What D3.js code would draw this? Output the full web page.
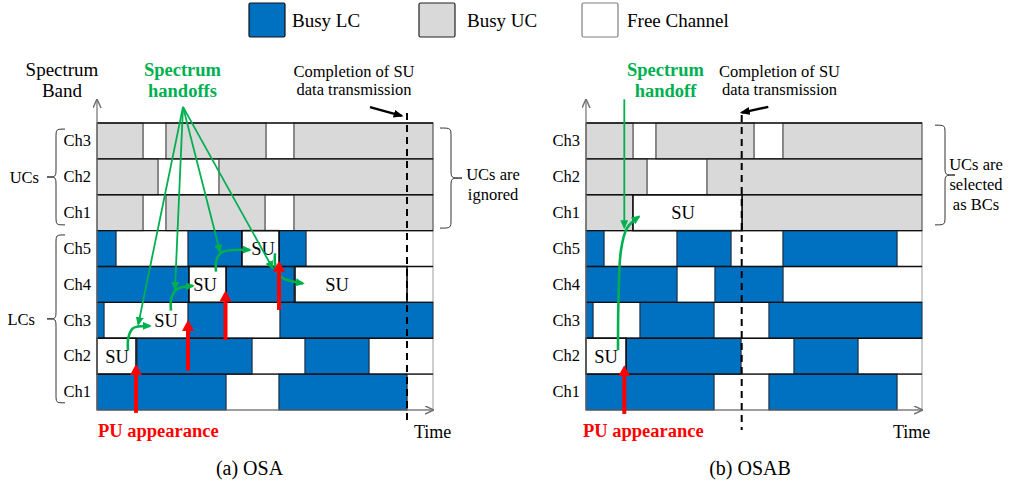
<!DOCTYPE html>
<html>
<head>
<meta charset="utf-8">
<script src="https://cdn.jsdelivr.net/npm/d3@7"></script>
<style>
  body { margin: 0; background: #fff; }
  svg text { font-family: "Liberation Serif", "Times New Roman", serif; }
</style>
</head>
<body>
<div class="chart"></div>
<script>
// rows from top to bottom
var channels = ["UC3", "UC2", "UC1", "LC5", "LC4", "LC3", "LC2", "LC1"];
var channelLabels = ["Ch3", "Ch2", "Ch1", "Ch5", "Ch4", "Ch3", "Ch2", "Ch1"];
var timeSpan = [0, 336];

// channel occupancy: [start, end, state]  L = busy LC, U = busy UC, F = free, S = used by SU
var osaSegments = {
    UC3: [[0, 46, "U"], [46, 69, "F"], [69, 169, "U"], [169, 197, "F"], [197, 336, "U"]],
    UC2: [[0, 61, "U"], [61, 122, "F"], [122, 336, "U"]],
    UC1: [[0, 46, "U"], [46, 69, "F"], [69, 168, "U"], [168, 197, "F"], [197, 336, "U"]],
    LC5: [[0, 19, "L"], [19, 91, "F"], [91, 145, "L"], [145, 182, "S"], [182, 209, "L"], [209, 336, "F"]],
    LC4: [[0, 92, "L"], [92, 129, "S"], [129, 197, "L"], [198, 310, "S"], [310, 336, "F"]],
    LC3: [[0, 7, "L"], [7, 91, "F"], [91, 129, "L"], [129, 183, "F"], [183, 336, "L"]],
    LC2: [[0, 39, "S"], [40, 155, "L"], [155, 208, "F"], [208, 272, "L"], [272, 336, "F"]],
    LC1: [[0, 129, "L"], [129, 182, "F"], [182, 310, "L"], [310, 336, "F"]]
};
var osabSegments = {
    UC3: [[0, 47, "U"], [47, 70, "F"], [70, 168, "U"], [168, 197, "F"], [197, 336, "U"]],
    UC2: [[0, 61, "U"], [61, 121, "F"], [121, 336, "U"]],
    UC1: [[0, 47, "U"], [47, 156, "S"], [156, 336, "U"]],
    LC5: [[0, 18, "L"], [18, 91, "F"], [91, 145, "L"], [145, 197, "F"], [197, 311, "L"], [311, 336, "F"]],
    LC4: [[0, 91, "L"], [91, 129, "F"], [129, 197, "L"], [197, 336, "F"]],
    LC3: [[0, 7, "L"], [7, 54, "F"], [54, 128, "L"], [128, 183, "F"], [183, 336, "L"]],
    LC2: [[0, 40, "S"], [40, 155, "L"], [155, 208, "F"], [208, 272, "L"], [272, 336, "F"]],
    LC1: [[0, 128, "L"], [128, 183, "F"], [183, 311, "L"], [311, 336, "F"]]
};

// SU labels: [channel, time]
var osaSU = [["LC2", 20], ["LC3", 69], ["LC4", 108], ["LC5", 166], ["LC4", 240]];
var osabSU = [["UC1", 97], ["LC2", 20]];

// PU appearance arrows: [time, tail level, tip level]  (level 0 = bottom of LC Ch1, 1 row = 1)
var osaPU = [[39, -0.08, 1.28], [91, 1.10, 2.51], [128.5, 1.95, 3.33], [182, 2.79, 4.16]];
var osabPU = [[38.3, -0.11, 1.25]];

// spectrum handoff hooks: lists of [time, level]
var osaHandoffs = [
    [[31, 1.67], [31.4, 2.02], [36, 2.28], [53, 2.34]],
    [[74, 2.77], [74.4, 3.12], [80, 3.37], [96, 3.46]],
    [[119, 3.86], [119.4, 4.18], [125, 4.40], [153, 4.46]],
    [[178, 4.37], [178.4, 4.01], [184, 3.71], [206, 3.53]]
];
var osabHandoffs = [
    [[32, 1.67], [32.5, 3.07], [35, 4.46], [41, 5.07], [53, 5.39]]
];

// pointers from the "Spectrum handoffs" label: [from time, from level, to time, to level]
var osaPointers = [[86, 8.45, 41.3, 2.39], [86, 8.45, 78, 3.37], [86, 8.45, 123, 4.41], [86, 8.45, 175.7, 3.95]];
var osabPointers = [[38.3, 8.66, 38.3, 5.09]];

// completion of SU transmission: time, dashed line levels, arrow [t0, l0, t1, l1]
var osaDone = {t: 310, top: 8.28, bottom: -0.42, arrow: [273, 8.44, 304.7, 8.20]};
var osabDone = {t: 155.7, top: 8.22, bottom: -0.56, arrow: [182.3, 8.45, 155.7, 8.29]};

var legendItems = ["Busy LC", "Busy UC", "Free Channel"];

var fillOf = {L: "#0070c0", U: "#d9d9d9", F: "#ffffff", S: "#ffffff"};
var strokeOf = {L: "#1d2f45", U: "#4a4a4a", F: "#a6a6a6", S: "#000000"};
var orderOf = {F: 0, U: 1, L: 1, S: 2};
var green = "#00b050";
var red = "#ff0000";

var svg = d3.select(".chart").append("svg")
    .attr("width", 1018)
    .attr("height", 484);

var defs = svg.append("defs");

function marker(id, color, w, h, ref, open) {
    var m = defs.append("marker")
        .attr("id", id)
        .attr("viewBox", "0 0 10 10")
        .attr("preserveAspectRatio", "none")
        .attr("refX", ref)
        .attr("refY", 5)
        .attr("markerUnits", "userSpaceOnUse")
        .attr("markerWidth", w)
        .attr("markerHeight", h)
        .attr("orient", "auto");
    if (open) {
        m.append("path").attr("d", "M0,0.5L10,5L0,9.5")
            .attr("fill", "none").attr("stroke", color).attr("stroke-width", 1.6);
    } else {
        m.append("path").attr("d", "M0,0L10,5L0,10z").attr("fill", color);
    }
}
marker("greenHead", green, 9, 8, 8, false);
marker("blackHead", "#000", 10, 8, 8, false);
marker("redHead", red, 11, 12, 0, false);
marker("openHead", "#6f6f6f", 9, 9, 10, true);

// y: band for rows, linear "level" for annotations
var y = d3.scaleBand().domain(channels).range([123, 410]);
var level = d3.scaleLinear().domain([0, channels.length]).range([410, 123]);

// legend
var legend = svg.selectAll(".legend")
    .data(legendItems)
    .enter().append("g")
    .attr("class", "legend")
    .attr("transform", function (d, i) {
        return "translate(" + [249, 419, 582][i] + ",3)";
    });

legend.append("rect")
    .attr("width", 36)
    .attr("height", 34)
    .attr("rx", 1.5)
    .style("fill", function (d, i) { return [fillOf.L, fillOf.U, fillOf.F][i]; })
    .style("stroke", function (d, i) { return ["#111", "#222", "#7f7f7f"][i]; })
    .style("stroke-width", 1.2);

legend.append("text")
    .attr("x", function (d, i) { return [43, 48, 45][i]; })
    .attr("y", 24)
    .attr("font-size", 19)
    .text(function (d) { return d; });

function brace(g, xTip, xCusp, yTop, yBottom) {
    var xm = (xTip + xCusp) / 2,
        ym = (yTop + yBottom) / 2,
        r = 9;
    var d = "M" + xTip + "," + yTop +
        "C" + xm + "," + yTop + " " + xm + "," + yTop + " " + xm + "," + (yTop + r) +
        "L" + xm + "," + (ym - r) +
        "C" + xm + "," + ym + " " + xm + "," + ym + " " + xCusp + "," + ym +
        "C" + xm + "," + ym + " " + xm + "," + ym + " " + xm + "," + (ym + r) +
        "L" + xm + "," + (yBottom - r) +
        "C" + xm + "," + yBottom + " " + xm + "," + yBottom + " " + xTip + "," + yBottom;
    g.append("path").attr("d", d)
        .attr("fill", "none").attr("stroke", "#333").attr("stroke-width", 1);
}

function multiText(g, x, ys, lines, size, anchor, color, weight) {
    lines.forEach(function (s, i) {
        g.append("text")
            .attr("x", x)
            .attr("y", ys[i])
            .attr("font-size", size)
            .attr("text-anchor", anchor)
            .attr("fill", color || "#000")
            .attr("font-weight", weight || "normal")
            .text(s);
    });
}

function drawPanel(p) {
    var g = svg.append("g");
    var x = d3.scaleLinear().domain(timeSpan).range([p.x0, p.x0 + timeSpan[1] - timeSpan[0]]);

    var segs = [];
    channels.forEach(function (ch) {
        p.segments[ch].forEach(function (s) {
            segs.push({ch: ch, t0: s[0], t1: s[1], s: s[2]});
        });
    });
    segs.sort(function (a, b) { return orderOf[a.s] - orderOf[b.s]; });

    // channel occupancy
    g.selectAll(".seg")
        .data(segs)
        .enter().append("rect")
        .attr("class", "seg")
        .attr("x", function (d) { return x(d.t0); })
        .attr("y", function (d) { return y(d.ch); })
        .attr("width", function (d) { return x(d.t1) - x(d.t0); })
        .attr("height", y.bandwidth())
        .style("fill", function (d) { return fillOf[d.s]; })
        .style("stroke", function (d) { return strokeOf[d.s]; })
        .style("stroke-width", function (d) { return d.s === "S" ? 1.5 : 1.1; });

    // row separators
    g.selectAll(".sep")
        .data(d3.range(1, channels.length + 1))
        .enter().append("line")
        .attr("class", "sep")
        .attr("x1", x(timeSpan[0]))
        .attr("x2", x(timeSpan[1]))
        .attr("y1", function (d) { return level(d); })
        .attr("y2", function (d) { return level(d); })
        .style("stroke", "#111")
        .style("stroke-width", 1.3);

    // axes
    g.append("line")
        .attr("x1", x(0)).attr("y1", level(0))
        .attr("x2", x(timeSpan[1]) + 1).attr("y2", level(0))
        .style("stroke", "#6f6f6f").style("stroke-width", 1.2)
        .attr("marker-end", "url(#openHead)");
    g.append("line")
        .attr("x1", x(0)).attr("y1", level(0))
        .attr("x2", x(0)).attr("y2", 99)
        .style("stroke", "#6f6f6f").style("stroke-width", 1.2)
        .attr("marker-end", "url(#openHead)");

    var yAxis = d3.axisLeft(y)
        .tickSize(0)
        .tickPadding(6)
        .tickFormat(function (d, i) { return channelLabels[i]; });
    var ya = g.append("g")
        .attr("transform", "translate(" + x(0) + ",0)")
        .call(yAxis);
    ya.select(".domain").remove();
    ya.attr("font-size", 16.5).attr("font-family", "Liberation Serif").style("color", "#000");

    // SU labels
    g.selectAll(".su")
        .data(p.su)
        .enter().append("text")
        .attr("class", "su")
        .attr("x", function (d) { return x(d[1]); })
        .attr("y", function (d) { return y(d[0]) + y.bandwidth() / 2; })
        .attr("dy", "0.35em")
        .attr("text-anchor", "middle")
        .attr("font-size", 18.5)
        .text("SU");

    // completion of SU transmission
    g.append("line")
        .attr("x1", x(p.done.t)).attr("x2", x(p.done.t))
        .attr("y1", level(p.done.top)).attr("y2", level(p.done.bottom))
        .style("stroke", "#000").style("stroke-width", 2)
        .style("stroke-dasharray", "7,5");
    var a = p.done.arrow;
    g.append("line")
        .attr("x1", x(a[0])).attr("y1", level(a[1]))
        .attr("x2", x(a[2])).attr("y2", level(a[3]))
        .style("stroke", "#000").style("stroke-width", 2.4)
        .attr("marker-end", "url(#blackHead)");

    // label pointers
    g.selectAll(".pointer")
        .data(p.pointers)
        .enter().append("line")
        .attr("class", "pointer")
        .attr("x1", function (d) { return x(d[0]); })
        .attr("y1", function (d) { return level(d[1]); })
        .attr("x2", function (d) { return x(d[2]); })
        .attr("y2", function (d) { return level(d[3]); })
        .style("stroke", green).style("stroke-width", 1.8)
        .attr("marker-end", "url(#greenHead)");

    // handoff hooks
    var hook = d3.line()
        .x(function (d) { return x(d[0]); })
        .y(function (d) { return level(d[1]); })
        .curve(d3.curveCatmullRom.alpha(0.5));
    g.selectAll(".hook")
        .data(p.handoffs)
        .enter().append("path")
        .attr("class", "hook")
        .attr("d", hook)
        .style("fill", "none").style("stroke", green).style("stroke-width", 2.6)
        .attr("marker-end", "url(#greenHead)");

    // PU appearance
    g.selectAll(".pu")
        .data(p.pu)
        .enter().append("line")
        .attr("class", "pu")
        .attr("x1", function (d) { return x(d[0]); })
        .attr("x2", function (d) { return x(d[0]); })
        .attr("y1", function (d) { return level(d[1]); })
        .attr("y2", function (d) { return level(d[2]) + 11; })
        .style("stroke", red).style("stroke-width", 4)
        .attr("marker-end", "url(#redHead)");

    // texts
    multiText(g, x(p.handoffLabelT), [76, 97], p.handoffLabel, 18.5, "middle", green, "bold");
    multiText(g, x(p.doneLabelT), [77, 95], ["Completion of SU", "data transmission"], 16.5, "middle");
    multiText(g, x(p.puLabelT), [437], ["PU appearance"], 18.5, "start", red, "bold");
    multiText(g, x(p.timeLabelT), [438], ["Time"], 18, "start");
    multiText(g, x(p.captionT), [475], [p.caption], 20, "middle");

    // right brace and note
    brace(g, x(timeSpan[1]) + p.noteBrace[0], x(timeSpan[1]) + p.noteBrace[1],
        level(p.noteBrace[2]), level(p.noteBrace[3]));
    multiText(g, x(timeSpan[1]) + p.noteX, p.noteY, p.note, 16.5, "middle");

    return {g: g, x: x};
}

var left = drawPanel({
    x0: 97,
    segments: osaSegments,
    su: osaSU,
    pu: osaPU,
    handoffs: osaHandoffs,
    pointers: osaPointers,
    done: osaDone,
    handoffLabel: ["Spectrum", "handoffs"],
    handoffLabelT: 85.5,
    doneLabelT: 257,
    puLabelT: 1,
    timeLabelT: 317,
    captionT: 152.5,
    caption: "(a) OSA",
    noteBrace: [7, 29, 7.86, 5.07],
    noteX: 60,
    noteY: [180, 200],
    note: ["UCs are", "ignored"]
});

drawPanel({
    x0: 586,
    segments: osabSegments,
    su: osabSU,
    pu: osabPU,
    handoffs: osabHandoffs,
    pointers: osabPointers,
    done: osabDone,
    handoffLabel: ["Spectrum", "handoff"],
    handoffLabelT: 79.5,
    doneLabelT: 193.5,
    puLabelT: -3,
    timeLabelT: 307,
    captionT: 164,
    caption: "(b) OSAB",
    noteBrace: [13, 33, 7.94, 5.16],
    noteX: 54,
    noteY: [170, 190, 210],
    note: ["UCs are", "selected", "as BCs"]
});

// left-side labels of the OSA panel
var lx = left.x;
multiText(left.g, 62, [76, 97], ["Spectrum", "Band"], 19, "middle");
brace(left.g, lx(0) - 32, lx(0) - 50, level(7.83), level(5.16));
brace(left.g, lx(0) - 32, lx(0) - 50, level(4.88), level(0.2));
multiText(left.g, 39, [183], ["UCs"], 16.5, "end");
multiText(left.g, 35, [325], ["LCs"], 16.5, "end");
</script>
</body>
</html>
